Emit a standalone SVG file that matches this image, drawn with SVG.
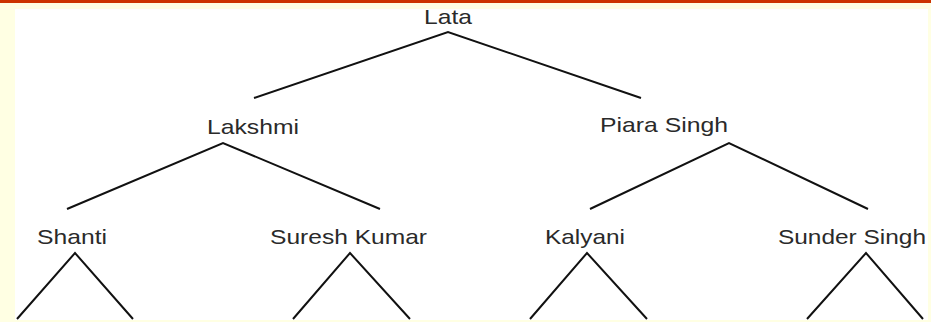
<svg xmlns="http://www.w3.org/2000/svg" width="931" height="322" viewBox="0 0 931 322">
<style>
.lbl{font-family:"Liberation Sans",Arial,sans-serif;font-size:21px;fill:#2a2a2a}
.ln{stroke:#111;stroke-width:2;fill:none;stroke-linejoin:miter}
</style>
<rect x="0" y="0" width="931" height="322" fill="#FFFFE3"/>
<rect x="0" y="0" width="931" height="3" fill="#CC3300"/>
<rect x="15" y="9" width="913" height="311" fill="#FFFFFF"/>
<g id="connectors">
<polyline class="ln" points="254,98 448,32 641,98"/>
<polyline class="ln" points="67,209 223,143 380,209"/>
<polyline class="ln" points="590,209 729,143 868,209"/>
<polyline class="ln" points="17,319 75,253 133,319"/>
<polyline class="ln" points="293,319 350,253 410,319"/>
<polyline class="ln" points="530,319 587,253 647,319"/>
<polyline class="ln" points="807,319 866,253 923,319"/>
</g>
<g id="lata"><text class="lbl" x="424" y="24" textLength="48" lengthAdjust="spacingAndGlyphs">Lata</text></g>
<g id="lakshmi"><text class="lbl" x="207" y="134" textLength="92" lengthAdjust="spacingAndGlyphs">Lakshmi</text></g>
<g id="piara-singh"><text class="lbl" x="600" y="132" textLength="128" lengthAdjust="spacingAndGlyphs">Piara Singh</text></g>
<g id="shanti"><text class="lbl" x="37" y="244" textLength="70" lengthAdjust="spacingAndGlyphs">Shanti</text></g>
<g id="suresh-kumar"><text class="lbl" x="270" y="244" textLength="157" lengthAdjust="spacingAndGlyphs">Suresh Kumar</text></g>
<g id="kalyani"><text class="lbl" x="545" y="244" textLength="80" lengthAdjust="spacingAndGlyphs">Kalyani</text></g>
<g id="sunder-singh"><text class="lbl" x="778" y="244" textLength="148" lengthAdjust="spacingAndGlyphs">Sunder Singh</text></g>
</svg>
